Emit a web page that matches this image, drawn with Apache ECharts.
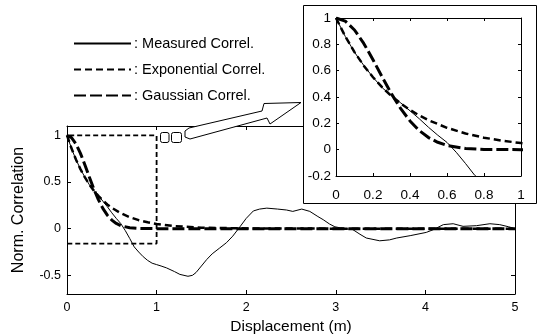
<!DOCTYPE html>
<html><head><meta charset="utf-8">
<script src="https://cdn.jsdelivr.net/npm/echarts@6/dist/echarts.min.js"></script>
<style>html,body{margin:0;padding:0;background:#fff}#c{width:539px;height:334px}</style>
</head><body><div id="c"></div>
<script>
// ---- data ----
const measuredX = [0,0.05,0.1,0.15,0.2,0.25,0.3,0.35,0.4,0.45,0.5,0.55,0.6,0.65,0.7,0.75,0.8,0.85,0.9,0.95,1.0,1.05,1.11,1.2,1.26,1.35,1.4,1.44,1.5,1.56,1.62,1.7,1.78,1.85,1.93,2.0,2.08,2.15,2.23,2.35,2.45,2.52,2.62,2.71,2.8,2.86,2.93,2.99,3.1,3.19,3.27,3.34,3.49,3.6,3.68,3.83,4.01,4.09,4.2,4.31,4.42,4.57,4.72,4.83,4.93,5.0];
const measuredY = [1,0.86,0.74,0.64,0.55,0.47,0.41,0.355,0.295,0.235,0.17,0.11,0.055,-0.02,-0.105,-0.195,-0.25,-0.30,-0.34,-0.37,-0.385,-0.40,-0.42,-0.46,-0.49,-0.51,-0.50,-0.47,-0.40,-0.33,-0.27,-0.21,-0.15,-0.08,0.02,0.11,0.19,0.21,0.22,0.21,0.20,0.185,0.21,0.185,0.13,0.096,0.05,0.02,0.0,-0.01,-0.06,-0.10,-0.13,-0.12,-0.10,-0.075,-0.04,-0.01,0.043,0.053,0.025,0.032,0.053,0.043,0.02,0.0];
const expX = [0,0.05,0.1,0.15,0.2,0.25,0.3,0.35,0.4,0.45,0.5,0.6,0.7,0.8,0.9,1.0,1.2,1.5,2,3,4,5];
const expY = [1,0.861,0.741,0.638,0.55,0.473,0.407,0.351,0.302,0.26,0.224,0.166,0.123,0.091,0.068,0.05,0.027,0.011,0.003,0,0,0];
const gaussX = [0,0.05,0.1,0.15,0.2,0.25,0.3,0.35,0.4,0.45,0.5,0.55,0.6,0.7,0.8,1.0,2,3,4,5];
const gaussY = [1,0.976,0.909,0.807,0.683,0.551,0.424,0.311,0.218,0.145,0.092,0.056,0.032,0.009,0.002,0,0,0,0,0];
const zoomBoxX = [-0.065,1,1,-0.065,-0.065];
const zoomBoxY = [1,1,-0.16,-0.16,1];
const mainXTicks = [0,1,2,3,4,5];
const mainYTicks = [-0.5,0,0.5,1];
const names = ['Measured Correl.','Exponential Correl.','Gaussian Correl.'];

const pairs = (xs, ys) => xs.map((x,i)=>[x, ys[i]]);
const FONT = 'Liberation Sans';
const K = '#000';

function mkX(grid, pos, min, max, interval, showLabel, fs, margin, tickLen, z, extra) {
  return Object.assign({
    type:'value', gridIndex:grid, position:pos, min:min, max:max, interval:interval, z:z,
    axisLine:{show:true, onZero:false, lineStyle:{color:K, width:1}},
    axisTick:{show:true, inside:true, length:tickLen, lineStyle:{color:K}},
    splitLine:{show:false},
    axisLabel:{show:showLabel, color:K, fontFamily:FONT, fontSize:fs, margin:margin,
      formatter:v=>String(Math.round(v*10)/10)}
  }, extra||{});
}

const chart = echarts.init(document.getElementById('c'), null, {renderer:'canvas'});
const lsMeas = {color:K, width:1, type:'solid'};
const lsExp = {color:K, width:2.5, type:[7,4]};
const lsGau = {color:K, width:3, type:[12,4]};

chart.setOption({
  animation:false,
  backgroundColor:'#fff',
  textStyle:{fontFamily:FONT},
  legend:{
    data:names, orient:'vertical', left:68, top:31, itemWidth:57, itemHeight:14, itemGap:11,
    selectedMode:false, itemStyle:{opacity:0},
    textStyle:{color:K, fontFamily:FONT, fontSize:14.5, padding:[0,0,0,-2]},
    formatter:n=>': '+n
  },
  grid:[
    {left:67, right:24, top:126, bottom:40, outerBoundsMode:'none', containLabel:false},
    {left:336, top:18, width:185, height:158, outerBoundsMode:'none', containLabel:false}
  ],
  xAxis:[
    mkX(0,'bottom',0,5,1,true,12.5,7,4,0,{name:'Displacement (m)', nameLocation:'middle', nameGap:15,
      nameTextStyle:{color:K, fontFamily:FONT, fontSize:15.5}}),
    mkX(0,'top',0,5,1,false,12,6,4,0),
    mkX(1,'bottom',0,1,0.2,true,13.5,12,3,8),
    mkX(1,'top',0,1,0.2,false,13.5,9,3,8)
  ],
  yAxis:[
    mkX(0,'left',-0.7,1.1,undefined,true,12,6,4,0,{
      name:'Norm. Correlation', nameLocation:'middle', nameGap:40,
      nameTextStyle:{color:K, fontFamily:FONT, fontSize:16},
      axisLabel:{show:true, color:K, fontFamily:FONT, fontSize:12.5, margin:6, customValues:mainYTicks, formatter:v=>String(v)},
      axisTick:{show:true, inside:true, length:4, lineStyle:{color:K}, customValues:mainYTicks}}),
    mkX(0,'right',-0.7,1.1,undefined,false,12,6,4,0,{
      axisTick:{show:true, inside:true, length:4, lineStyle:{color:K}, customValues:mainYTicks}}),
    mkX(1,'left',-0.2,1,0.2,true,13.5,5,3,8),
    mkX(1,'right',-0.2,1,0.2,false,13.5,5,3,8)
  ],
  graphic:[
    {type:'rect', z:5, shape:{x:303.5, y:5.5, width:233, height:198}, style:{fill:'#fff', stroke:K, lineWidth:1}},
    {type:'polygon', z:6, shape:{points:[[185,131],[189,128],[262,111],[264,103.5],[301,102.5],[270,124],[267,118],[190,139],[185,137]]},
      style:{fill:'#fff', stroke:K, lineWidth:1}},
    {type:'rect', z:6, shape:{x:160.5, y:132.5, width:8.5, height:10, r:2}, style:{fill:'#fff', stroke:K, lineWidth:1}},
    {type:'rect', z:6, shape:{x:171.5, y:132.5, width:10, height:10, r:2}, style:{fill:'#fff', stroke:K, lineWidth:1}}
  ],
  series:[
    {name:names[0], type:'line', xAxisIndex:0, yAxisIndex:0, data:pairs(measuredX,measuredY), symbol:'none', lineStyle:lsMeas, itemStyle:{color:K}, z:2},
    {name:names[1], type:'line', xAxisIndex:0, yAxisIndex:0, data:pairs(expX,expY), symbol:'none', lineStyle:lsExp, itemStyle:{color:K}, z:2},
    {name:names[2], type:'line', xAxisIndex:0, yAxisIndex:0, data:pairs(gaussX,gaussY), symbol:'none', lineStyle:lsGau, itemStyle:{color:K}, z:2},
    {name:'zoomBox', type:'line', xAxisIndex:0, yAxisIndex:0, data:pairs(zoomBoxX,zoomBoxY), symbol:'none', clip:false,
      lineStyle:{color:K, width:1.8, type:[5,3]}, z:3, silent:true},
    {name:names[0], type:'line', xAxisIndex:2, yAxisIndex:2, data:pairs(measuredX,measuredY), symbol:'none', lineStyle:lsMeas, itemStyle:{color:K}, z:10, clip:true},
    {name:names[1], type:'line', xAxisIndex:2, yAxisIndex:2, data:pairs(expX,expY), symbol:'none', lineStyle:lsExp, itemStyle:{color:K}, z:10, clip:true},
    {name:names[2], type:'line', xAxisIndex:2, yAxisIndex:2, data:pairs(gaussX,gaussY), symbol:'none', lineStyle:lsGau, itemStyle:{color:K}, z:10, clip:true}
  ]
});
</script></body></html>
